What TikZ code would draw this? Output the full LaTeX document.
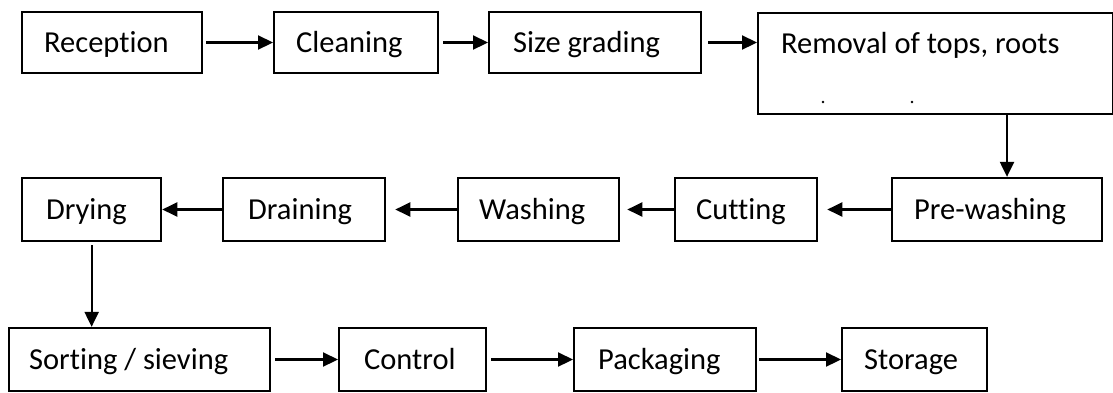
\documentclass[tikz,border=0pt]{standalone}
\usepackage{fontspec}
\setmainfont{Carlito}[Ligatures=NoCommon]
\usetikzlibrary{arrows.meta}
\begin{document}
\begin{tikzpicture}[x=1pt,y=1pt,
  box/.style={draw, line width=2.3pt, inner ysep=0pt, align=flush left,
    font=\fontsize{30.5}{36}\selectfont, text height=24pt, text depth=4pt, anchor=west},
  arr/.style={line width=2.2pt, -{Triangle[length=15pt,width=14pt]}},
  dotn/.style={circle, fill, inner sep=0pt, minimum size=2.8pt}]
\useasboundingbox (0,0) rectangle (1113,-392);
% row 1
\node[box, minimum height=61pt, inner xsep=22pt, text width=136pt] (rec) at (21,-42.5) {Reception};
\node[box, minimum height=61pt, inner xsep=22pt, text width=120pt] (cle) at (273,-42.5) {Cleaning};
\node[box, minimum height=61pt, inner xsep=24pt, text width=164pt] (siz) at (488,-42.5) {Size grading};
\node[draw, line width=2.3pt, anchor=north west, inner ysep=0pt, inner xsep=23pt,
  text width=309pt, align=flush left, font=\fontsize{30.5}{36}\selectfont,
  text height=40pt, text depth=61pt] (rem) at (757,-12) {Removal of tops, roots};
\node[dotn] (d1) at (823,-102) {};
\node[dotn] (d2) at (912,-102) {};
% row 2
\node[box, minimum height=63pt, inner xsep=24pt, text width=91pt] (dry) at (21,-209.5) {Drying};
\node[box, minimum height=63pt, inner xsep=25pt, text width=112pt] (dra) at (222,-209.5) {Draining};
\node[box, minimum height=63pt, inner xsep=21pt, text width=119pt] (was) at (457,-209.5) {Washing};
\node[box, minimum height=63pt, inner xsep=21pt, text width=100pt] (cut) at (674,-209.5) {Cutting};
\node[box, minimum height=63pt, inner xsep=22pt, text width=166pt] (pw) at (891,-209.5) {Pre-washing};
% row 3
\node[box, minimum height=63pt, inner xsep=20pt, text width=221pt] (sor) at (8,-359.5) {Sorting / sieving};
\node[box, minimum height=63pt, inner xsep=25pt, text width=97pt] (con) at (338,-359.5) {Control};
\node[box, minimum height=63pt, inner xsep=24pt, text width=134pt] (pac) at (573,-359.5) {Packaging};
\node[box, minimum height=63pt, inner xsep=22pt, text width=101pt] (sto) at (841,-359.5) {Storage};
% connectors
\draw[arr, shorten <=3pt] (rec.east) -- (cle.west);
\draw[arr, shorten <=4pt] (cle.east) -- (siz.west);
\draw[arr, shorten <=6pt] (siz.east) -- (siz.east -| rem.west);
\coordinate (rv) at (1007,-113);
\draw[arr] (rv) -- (rv |- pw.north);
\draw[arr, shorten >=9pt] (pw.west) -- (cut.east);
\draw[arr, shorten >=7pt] (cut.west) -- (was.east);
\draw[arr, shorten >=9pt] (was.west) -- (dra.east);
\draw[arr] (dra.west) -- (dry.east);
\draw[arr, shorten <=3pt] (dry.south) -- (dry.south |- sor.north);
\draw[arr, shorten <=4pt] (sor.east) -- (con.west);
\draw[arr, shorten <=4pt] (con.east) -- (pac.west);
\draw[arr, shorten <=2pt] (pac.east) -- (sto.west);
\end{tikzpicture}
\end{document}
